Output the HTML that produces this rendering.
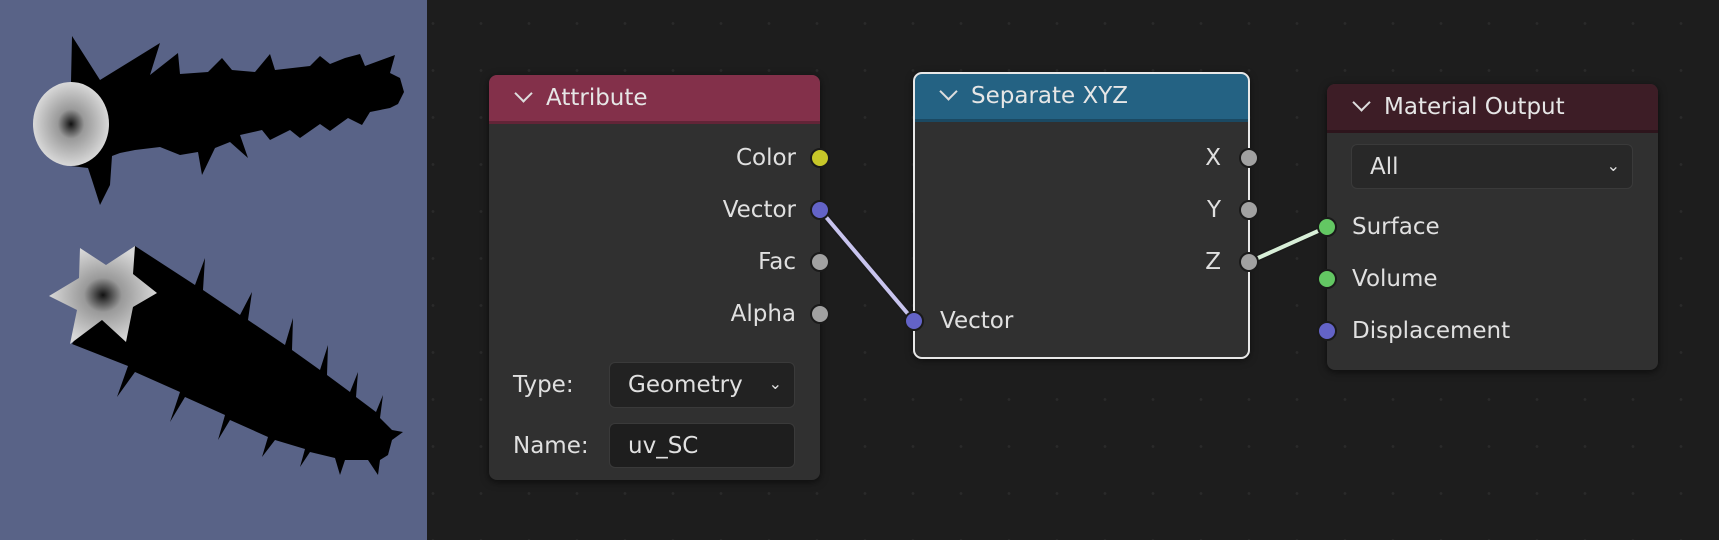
<!DOCTYPE html>
<html><head><meta charset="utf-8"><style>
body{margin:0;width:1719px;height:540px;overflow:hidden;background:#1d1d1d;font-family:"DejaVu Sans","Liberation Sans",sans-serif;}
#bg{position:absolute;left:427px;top:0;width:1292px;height:540px;background-color:#1d1d1d;background-image:radial-gradient(circle,#2a2a2a 1.2px,transparent 1.6px);background-size:48px 47px;background-position:-18px 0px;}
#panel{position:absolute;left:0;top:0;width:427px;height:540px;background:#596387;}
.node{position:absolute;background:#303030;border-radius:8px;box-shadow:0 2px 8px rgba(0,0,0,.6);}
.hdr{height:49px;border-radius:8px 8px 0 0;color:#e6e6e6;font-size:23px;line-height:46px;border-bottom:3px solid rgba(0,0,0,.25);box-sizing:border-box;}
.hdr span.c{display:inline-block;width:11px;height:11px;border-right:2px solid #ddd;border-bottom:2px solid #ddd;transform:rotate(45deg);margin:0 16px 0 28px;position:relative;top:-5px;}
.lbl{position:absolute;color:#e0e0e0;font-size:23px;line-height:26px;}
.sock{position:absolute;width:20px;height:20px;border-radius:50%;border:2px solid #1a1a1a;box-sizing:border-box;}
.fld{position:absolute;background:#222;border:1px solid #3a3a3a;border-radius:6px;color:#e0e0e0;font-size:23px;box-sizing:border-box;padding-left:18px;}
</style></head><body>
<div id="bg"></div>
<div id="panel">
<svg width="427" height="540" style="position:absolute;left:0;top:0">
<defs><radialGradient id="g"><stop offset="0" stop-color="#111"/><stop offset=".35" stop-color="#999"/><stop offset="1" stop-color="#d8d8d8"/></radialGradient></defs>
<polygon fill="#000" points="71,82 72,36 100,80 160,43 150,75 178,53 180,74 208,72 222,58 232,70 255,72 270,54 275,70 310,66 320,56 330,64 345,58 360,54 365,66 395,55 390,73 400,78 404,92 398,104 390,108 370,112 362,125 348,118 330,131 320,124 300,138 290,130 270,140 262,130 240,135 248,158 230,142 215,148 202,175 198,152 180,155 160,147 135,150 120,153 112,156 110,185 100,205 92,180 88,168 71,166"/>
<ellipse cx="71" cy="124" rx="38" ry="42" fill="url(#g)"/>
<path fill="#000" d="M135,246 L195,285 L205,258 L203,290 L240,315 L252,292 L248,320 L285,345 L293,318 L292,350 L320,370 L328,345 L327,375 L350,392 L358,372 L356,397 L376,412 L383,395 L380,418 L392,430 L403,432 L392,440 L388,455 L380,460 L378,475 L368,460 L345,460 L340,475 L335,458 L310,452 L300,467 L305,449 L275,440 L262,457 L268,437 L230,420 L218,440 L225,415 L185,397 L170,422 L180,392 L135,372 L117,397 L128,366 L72,344 Z"/>
<polygon fill="url(#g)" points="135,246 133,274 157,293 133,307 126,342 102,320 70,344 77,310 49,296 79,278 80,248 106,265"/>
</svg>
</div>
<svg width="1719" height="540" style="position:absolute;left:0;top:0">
<line x1="820" y1="210" x2="914" y2="321" stroke="#1a1a1a" stroke-width="7"/>
<line x1="820" y1="210" x2="914" y2="321" stroke="#c8c4ee" stroke-width="4"/>
<line x1="1249" y1="262" x2="1327" y2="227" stroke="#1a1a1a" stroke-width="7"/>
<line x1="1249" y1="262" x2="1327" y2="227" stroke="#d8efd8" stroke-width="4"/>
</svg>
<div class="node" style="left:489px;top:75px;width:331px;height:405px;">
<div class="hdr" style="background:#83304a"><span class="c"></span>Attribute</div>
<div class="lbl" style="right:24px;top:70px">Color</div>
<div class="lbl" style="right:24px;top:122px">Vector</div>
<div class="lbl" style="right:24px;top:174px">Fac</div>
<div class="lbl" style="right:24px;top:226px">Alpha</div>
<div class="lbl" style="left:24px;top:297px">Type:</div>
<div class="fld" style="left:120px;top:287px;width:186px;height:46px;line-height:44px;">Geometry<span style="position:absolute;right:12px;top:-1px;font-size:16px">&#8964;</span></div>
<div class="lbl" style="left:24px;top:358px">Name:</div>
<div class="fld" style="left:120px;top:348px;width:186px;height:45px;line-height:44px;background:#1e1e1e">uv_SC</div>
</div>
<div class="sock" style="left:810px;top:148px;background:#c7c729"></div>
<div class="sock" style="left:810px;top:200px;background:#6363c7"></div>
<div class="sock" style="left:810px;top:252px;background:#a1a1a1"></div>
<div class="sock" style="left:810px;top:304px;background:#a1a1a1"></div>

<div class="node" style="left:914px;top:73px;width:335px;height:285px;outline:2px solid #e8e8e8;outline-offset:-1px;">
<div class="hdr" style="background:#246283"><span class="c"></span>Separate XYZ</div>
<div class="lbl" style="right:28px;top:72px">X</div>
<div class="lbl" style="right:28px;top:124px">Y</div>
<div class="lbl" style="right:28px;top:176px">Z</div>
</div>
<div class="lbl" style="left:940px;top:308px">Vector</div>
<div class="sock" style="left:1239px;top:148px;background:#a1a1a1"></div>
<div class="sock" style="left:1239px;top:200px;background:#a1a1a1"></div>
<div class="sock" style="left:1239px;top:252px;background:#a1a1a1"></div>
<div class="sock" style="left:904px;top:311px;background:#6363c7"></div>

<div class="node" style="left:1327px;top:84px;width:331px;height:286px;">
<div class="hdr" style="background:#3d1d26"><span class="c"></span>Material Output</div>
<div class="fld" style="left:24px;top:60px;width:282px;height:45px;line-height:44px;background:#282828">All<span style="position:absolute;right:12px;top:-1px;font-size:16px">&#8964;</span></div>
<div class="lbl" style="left:25px;top:130px">Surface</div>
<div class="lbl" style="left:25px;top:182px">Volume</div>
<div class="lbl" style="left:25px;top:234px">Displacement</div>
</div>
<div class="sock" style="left:1317px;top:217px;background:#63c763"></div>
<div class="sock" style="left:1317px;top:269px;background:#63c763"></div>
<div class="sock" style="left:1317px;top:321px;background:#6363c7"></div>
</body></html>
